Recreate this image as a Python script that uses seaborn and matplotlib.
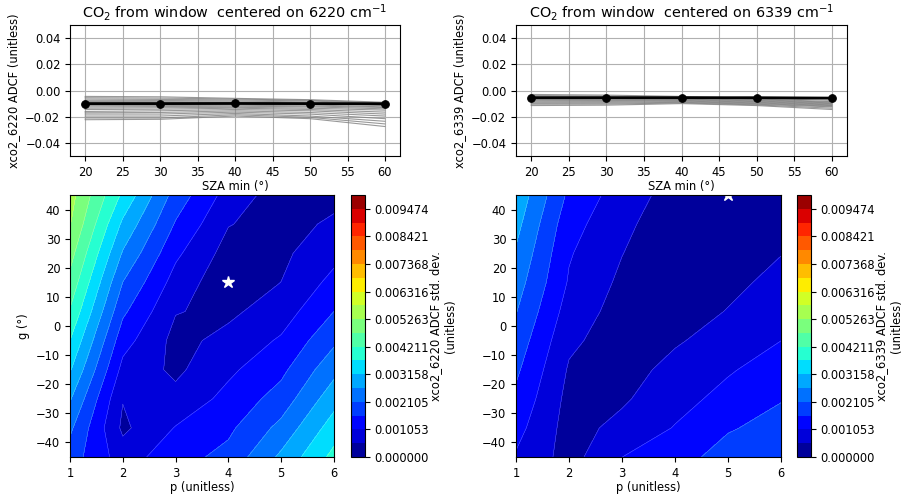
import numpy as np
import pandas as pd
import seaborn as sns
import matplotlib
matplotlib.use("Agg")
import matplotlib.pyplot as plt

# ---- data -------------------------------------------------------------
sza = [20, 30, 40, 50, 60]

# best (p, g) combination, ADCF vs SZA min (x1e-3)
best_6220 = [-10.0, -10.0, -9.9, -10.0, -10.1]
best_6339 = [-5.5, -5.5, -5.5, -5.5, -5.8]

# all other (p, g) combinations (x1e-3)
others_6220 = [
    [-4.5, -4.8, -6.0, -7.0, -9.0],
    [-5.5, -5.8, -6.5, -7.5, -9.5],
    [-6.5, -6.8, -7.2, -8.0, -10.0],
    [-7.5, -7.6, -8.0, -8.8, -10.5],
    [-8.5, -8.5, -8.8, -9.5, -11.0],
    [-9.0, -9.2, -9.5, -10.2, -11.5],
    [-10.5, -10.5, -10.5, -11.0, -12.5],
    [-11.5, -11.5, -11.2, -11.8, -13.0],
    [-12.5, -12.3, -12.0, -12.5, -14.0],
    [-13.5, -13.2, -12.8, -13.5, -15.0],
    [-14.5, -14.3, -13.5, -14.5, -16.5],
    [-16.0, -15.5, -14.5, -15.5, -18.0],
    [-17.0, -16.8, -15.5, -16.8, -19.5],
    [-18.0, -18.0, -16.5, -18.0, -21.5],
    [-19.5, -19.5, -17.5, -19.5, -23.5],
    [-21.0, -21.0, -18.5, -20.5, -25.5],
    [-22.3, -22.0, -19.5, -21.5, -27.5],
]
others_6339 = [
    [-3.0, -3.5, -4.5, -6.0, -7.5],
    [-3.8, -4.2, -5.0, -6.5, -8.5],
    [-4.5, -4.8, -5.5, -7.0, -9.0],
    [-5.2, -5.5, -6.0, -7.5, -9.5],
    [-6.0, -6.2, -6.5, -8.0, -10.0],
    [-6.8, -7.0, -7.0, -8.5, -10.5],
    [-7.5, -7.6, -7.5, -9.0, -11.0],
    [-8.2, -8.3, -8.0, -9.5, -11.5],
    [-9.0, -9.0, -8.5, -10.0, -12.0],
    [-9.8, -9.7, -9.0, -10.5, -12.5],
    [-10.5, -10.4, -9.5, -11.0, -13.5],
    [-11.5, -11.2, -10.0, -11.5, -14.5],
]

p_vals = [1, 2, 3, 4, 5, 6]
g_vals = [-45, -35, -25, -15, -5, 5, 15, 25, 35, 45]

# ADCF std. dev. (x1e-3), rows = g (bottom to top), cols = p
std_6220 = [
    [1.84, 0.79, 1.37, 1.74, 2.74, 3.84],
    [2.21, 0.42, 1.08, 1.47, 2.26, 3.42],
    [2.68, 0.55, 0.68, 1.21, 1.80, 2.95],
    [3.21, 0.89, 0.42, 0.95, 1.45, 2.47],
    [3.68, 1.26, 0.37, 0.68, 1.12, 2.00],
    [4.16, 1.68, 0.55, 0.42, 0.79, 1.58],
    [4.58, 2.10, 0.84, 0.16, 0.53, 1.21],
    [4.94, 2.58, 1.16, 0.32, 0.42, 0.89],
    [5.29, 3.05, 1.53, 0.55, 0.32, 0.62],
    [5.47, 3.58, 1.89, 0.84, 0.26, 0.36],
]
std_6339 = [
    [1.00, 0.32, 1.05, 1.37, 1.79, 1.95],
    [1.23, 0.32, 0.68, 1.08, 1.53, 1.76],
    [1.46, 0.37, 0.45, 0.87, 1.21, 1.55],
    [1.68, 0.47, 0.32, 0.68, 1.00, 1.29],
    [1.90, 0.63, 0.26, 0.47, 0.74, 1.05],
    [2.13, 0.82, 0.32, 0.26, 0.55, 0.87],
    [2.35, 1.00, 0.42, 0.11, 0.39, 0.68],
    [2.57, 1.10, 0.54, 0.10, 0.26, 0.51],
    [2.80, 1.24, 0.68, 0.13, 0.18, 0.37],
    [3.02, 1.47, 0.79, 0.32, 0.05, 0.24],
]

star_6220 = (4, 15)
star_6339 = (5, 45)

windows = ["6220", "6339"]

# ---- style ------------------------------------------------------------
sns.set_style("ticks")
plt.rcParams.update({
    "font.family": ["DejaVu Sans"],
    "font.size": 8.3,
    "axes.labelsize": 8.3,
    "xtick.labelsize": 8.3,
    "ytick.labelsize": 8.3,
    "axes.titlesize": 10.4,
    "axes.edgecolor": "black",
    "xtick.color": "black",
    "ytick.color": "black",
    "axes.labelcolor": "black",
    "text.color": "black",
})

W, H = 902, 495
fig = plt.figure(figsize=(W / 100, H / 100), dpi=100)


def px_axes(x0, x1, y0, y1):
    return fig.add_axes([x0 / W, 1 - y1 / H, (x1 - x0) / W, (y1 - y0) / H])


top_axes = [px_axes(70, 400, 25, 156), px_axes(516, 847, 25, 156)]
bot_axes = [px_axes(70, 334, 195, 457), px_axes(516, 781, 195, 457)]
cbar_axes = [px_axes(351, 365, 195, 457), px_axes(797, 811, 195, 457)]

levels = np.linspace(0, 0.01, 20)

for i, (win, best, others, std, star) in enumerate(zip(
        windows, [best_6220, best_6339], [others_6220, others_6339],
        [std_6220, std_6339], [star_6220, star_6339])):
    ax = top_axes[i]
    ax.grid(True, color="#b0b0b0", lw=0.8)
    ax.set_axisbelow(True)

    rows = []
    for k, line in enumerate(others):
        for s, v in zip(sza, line):
            rows.append({"sza": s, "adcf": v * 1e-3, "combo": k})
    df = pd.DataFrame(rows)
    sns.lineplot(data=df, x="sza", y="adcf", units="combo", estimator=None,
                 color="gray", lw=0.8, alpha=0.8, ax=ax, legend=False)
    sns.lineplot(x=sza, y=np.array(best) * 1e-3, color="black", lw=2,
                 marker="o", markersize=5.5, markeredgecolor="black", ax=ax)

    ax.set_xlim(18, 62)
    ax.set_ylim(-0.05, 0.05)
    ax.set_yticks([-0.04, -0.02, 0.0, 0.02, 0.04])
    ax.set_xlabel("SZA min (°)", labelpad=1)
    ax.set_ylabel(f"xco2_{win} ADCF (unitless)")
    ax.set_title(f"CO$_2$ from window  centered on {win} cm$^{{-1}}$", pad=5)

    # contour map
    ax2 = bot_axes[i]
    Z = np.array(std) * 1e-3
    cs = ax2.contourf(p_vals, g_vals, Z, levels=levels, cmap="jet")
    ax2.contour(p_vals, g_vals, Z, levels=levels, colors="white",
                linewidths=0.3, alpha=0.45)
    ax2.plot(star[0], star[1], marker="*", color="white", markersize=9,
             markeredgecolor="white", linestyle="none")
    ax2.set_xlim(1, 6)
    ax2.set_ylim(-45, 45)
    ax2.set_yticks([-40, -30, -20, -10, 0, 10, 20, 30, 40])
    ax2.set_xlabel("p (unitless)", labelpad=1)
    if i == 0:
        ax2.set_ylabel("g (°)")

    cb = fig.colorbar(cs, cax=cbar_axes[i])
    cb.set_ticks(levels[::2])
    cb.set_ticklabels([f"{v:f}" for v in levels[::2]])
    cb.set_label(f"xco2_{win} ADCF std. dev.\n(unitless)", labelpad=0)
    cb.outline.set_edgecolor("black")

fig.savefig("out.png", dpi=100)
